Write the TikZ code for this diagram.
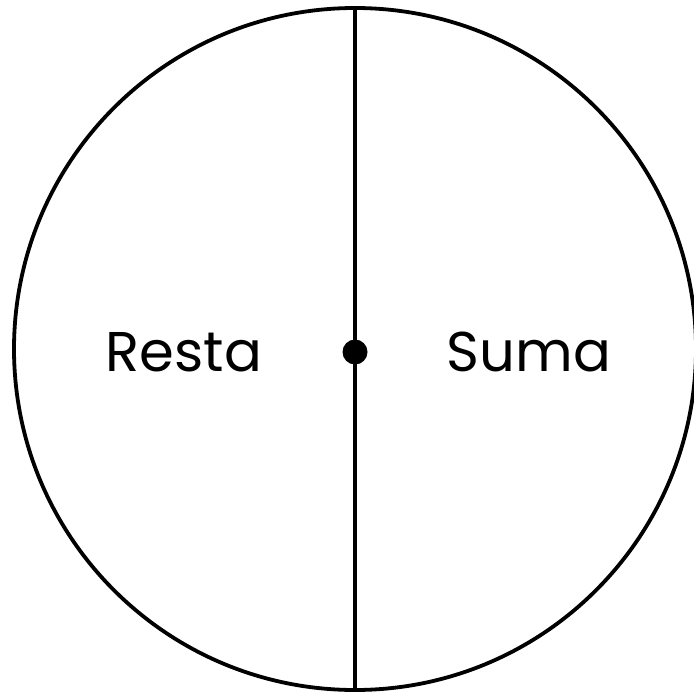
\documentclass[tikz,border=0pt]{standalone}
\usepackage{fontspec}
\setmainfont{Poppins}
\usepackage{tikz}
\usetikzlibrary{positioning}

\tikzset{
  rim/.style={line width=1.9pt, draw=black},
  half/.style={font=\fontsize{28}{30}\selectfont, text=black, inner sep=0pt}
}

\begin{document}
\begin{tikzpicture}[x=0.5pt, y=-0.5pt]
\useasboundingbox (0,0) rectangle (694,695);
\coordinate (centre) at (355,349);
\draw[rim] (centre) circle[radius=341];
\coordinate (top) at (355,8);
\coordinate (bottom) at (355,690);
\draw[rim] (top) -- (bottom);
\coordinate (pivot) at (355,352);
\fill (pivot) circle[radius=12.5];
\node[half] (resta) at (184,352) {Resta};
\node[half] (suma) at (529,352) {Suma};
\end{tikzpicture}
\end{document}
